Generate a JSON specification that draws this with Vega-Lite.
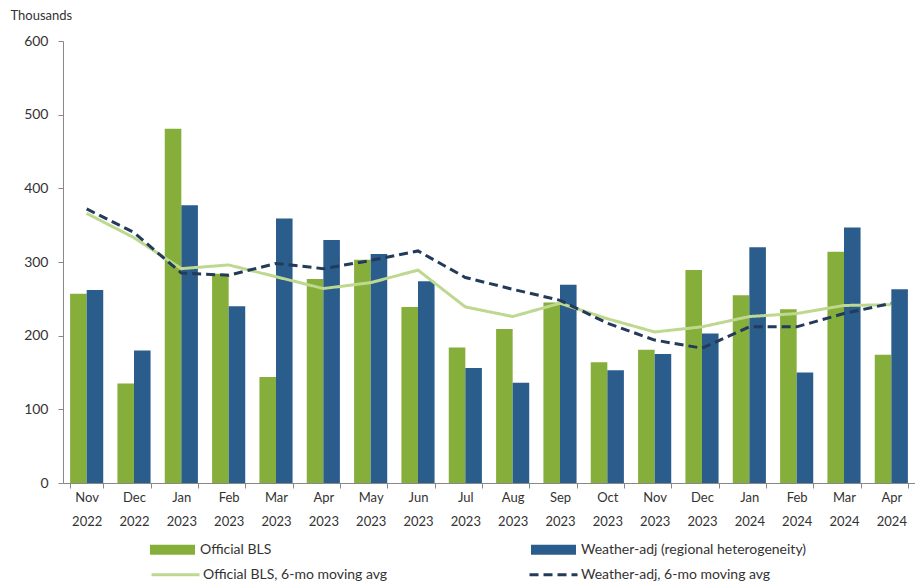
{
  "$schema": "https://vega.github.io/schema/vega-lite/v6.json",
  "autosize": "none",
  "padding": {"left": 63, "top": 41, "right": 0, "bottom": 101},
  "width": 852,
  "height": 442,
  "background": "white",
  "config": {
    "font": "Lato",
    "view": {"stroke": null},
    "axis": {"labelFont": "Lato", "titleFont": "Lato", "labelColor": "#333333", "titleColor": "#333333"}
  },
  "datasets": {
    "bars": [
      {"month": "Nov 2022", "series": "Official BLS", "value": 257},
      {"month": "Nov 2022", "series": "Weather-adj (regional heterogeneity)", "value": 262},
      {"month": "Dec 2022", "series": "Official BLS", "value": 135},
      {"month": "Dec 2022", "series": "Weather-adj (regional heterogeneity)", "value": 180},
      {"month": "Jan 2023", "series": "Official BLS", "value": 481},
      {"month": "Jan 2023", "series": "Weather-adj (regional heterogeneity)", "value": 377},
      {"month": "Feb 2023", "series": "Official BLS", "value": 284},
      {"month": "Feb 2023", "series": "Weather-adj (regional heterogeneity)", "value": 240},
      {"month": "Mar 2023", "series": "Official BLS", "value": 144},
      {"month": "Mar 2023", "series": "Weather-adj (regional heterogeneity)", "value": 359},
      {"month": "Apr 2023", "series": "Official BLS", "value": 277},
      {"month": "Apr 2023", "series": "Weather-adj (regional heterogeneity)", "value": 330},
      {"month": "May 2023", "series": "Official BLS", "value": 303},
      {"month": "May 2023", "series": "Weather-adj (regional heterogeneity)", "value": 311},
      {"month": "Jun 2023", "series": "Official BLS", "value": 239},
      {"month": "Jun 2023", "series": "Weather-adj (regional heterogeneity)", "value": 274},
      {"month": "Jul 2023", "series": "Official BLS", "value": 184},
      {"month": "Jul 2023", "series": "Weather-adj (regional heterogeneity)", "value": 156},
      {"month": "Aug 2023", "series": "Official BLS", "value": 209},
      {"month": "Aug 2023", "series": "Weather-adj (regional heterogeneity)", "value": 136},
      {"month": "Sep 2023", "series": "Official BLS", "value": 245},
      {"month": "Sep 2023", "series": "Weather-adj (regional heterogeneity)", "value": 269},
      {"month": "Oct 2023", "series": "Official BLS", "value": 164},
      {"month": "Oct 2023", "series": "Weather-adj (regional heterogeneity)", "value": 153},
      {"month": "Nov 2023", "series": "Official BLS", "value": 181},
      {"month": "Nov 2023", "series": "Weather-adj (regional heterogeneity)", "value": 175},
      {"month": "Dec 2023", "series": "Official BLS", "value": 289},
      {"month": "Dec 2023", "series": "Weather-adj (regional heterogeneity)", "value": 203},
      {"month": "Jan 2024", "series": "Official BLS", "value": 255},
      {"month": "Jan 2024", "series": "Weather-adj (regional heterogeneity)", "value": 320},
      {"month": "Feb 2024", "series": "Official BLS", "value": 236},
      {"month": "Feb 2024", "series": "Weather-adj (regional heterogeneity)", "value": 150},
      {"month": "Mar 2024", "series": "Official BLS", "value": 314},
      {"month": "Mar 2024", "series": "Weather-adj (regional heterogeneity)", "value": 347},
      {"month": "Apr 2024", "series": "Official BLS", "value": 174},
      {"month": "Apr 2024", "series": "Weather-adj (regional heterogeneity)", "value": 263}
    ],
    "lines": [
      {"month": "Nov 2022", "series": "Official BLS, 6-mo moving avg", "value": 366},
      {"month": "Dec 2022", "series": "Official BLS, 6-mo moving avg", "value": 333},
      {"month": "Jan 2023", "series": "Official BLS, 6-mo moving avg", "value": 291},
      {"month": "Feb 2023", "series": "Official BLS, 6-mo moving avg", "value": 296},
      {"month": "Mar 2023", "series": "Official BLS, 6-mo moving avg", "value": 280},
      {"month": "Apr 2023", "series": "Official BLS, 6-mo moving avg", "value": 264},
      {"month": "May 2023", "series": "Official BLS, 6-mo moving avg", "value": 272},
      {"month": "Jun 2023", "series": "Official BLS, 6-mo moving avg", "value": 289},
      {"month": "Jul 2023", "series": "Official BLS, 6-mo moving avg", "value": 239},
      {"month": "Aug 2023", "series": "Official BLS, 6-mo moving avg", "value": 226},
      {"month": "Sep 2023", "series": "Official BLS, 6-mo moving avg", "value": 244},
      {"month": "Oct 2023", "series": "Official BLS, 6-mo moving avg", "value": 223},
      {"month": "Nov 2023", "series": "Official BLS, 6-mo moving avg", "value": 205},
      {"month": "Dec 2023", "series": "Official BLS, 6-mo moving avg", "value": 212},
      {"month": "Jan 2024", "series": "Official BLS, 6-mo moving avg", "value": 226},
      {"month": "Feb 2024", "series": "Official BLS, 6-mo moving avg", "value": 230},
      {"month": "Mar 2024", "series": "Official BLS, 6-mo moving avg", "value": 241},
      {"month": "Apr 2024", "series": "Official BLS, 6-mo moving avg", "value": 242},
      {"month": "Nov 2022", "series": "Weather-adj, 6-mo moving avg", "value": 372},
      {"month": "Dec 2022", "series": "Weather-adj, 6-mo moving avg", "value": 340},
      {"month": "Jan 2023", "series": "Weather-adj, 6-mo moving avg", "value": 285},
      {"month": "Feb 2023", "series": "Weather-adj, 6-mo moving avg", "value": 282},
      {"month": "Mar 2023", "series": "Weather-adj, 6-mo moving avg", "value": 298},
      {"month": "Apr 2023", "series": "Weather-adj, 6-mo moving avg", "value": 291},
      {"month": "May 2023", "series": "Weather-adj, 6-mo moving avg", "value": 302},
      {"month": "Jun 2023", "series": "Weather-adj, 6-mo moving avg", "value": 315},
      {"month": "Jul 2023", "series": "Weather-adj, 6-mo moving avg", "value": 279},
      {"month": "Aug 2023", "series": "Weather-adj, 6-mo moving avg", "value": 263},
      {"month": "Sep 2023", "series": "Weather-adj, 6-mo moving avg", "value": 248},
      {"month": "Oct 2023", "series": "Weather-adj, 6-mo moving avg", "value": 217},
      {"month": "Nov 2023", "series": "Weather-adj, 6-mo moving avg", "value": 194},
      {"month": "Dec 2023", "series": "Weather-adj, 6-mo moving avg", "value": 183},
      {"month": "Jan 2024", "series": "Weather-adj, 6-mo moving avg", "value": 212},
      {"month": "Feb 2024", "series": "Weather-adj, 6-mo moving avg", "value": 212},
      {"month": "Mar 2024", "series": "Weather-adj, 6-mo moving avg", "value": 230},
      {"month": "Apr 2024", "series": "Weather-adj, 6-mo moving avg", "value": 244}
    ]
  },
  "encoding": {
    "x": {
      "field": "month",
      "type": "nominal",
      "sort": null,
      "scale": {"paddingInner": 0.3, "paddingOuter": 0.15},
      "axis": {
        "title": null,
        "labelAngle": 0,
        "labelExpr": "split(datum.label, ' ')",
        "labelLineHeight": 24,
        "labelFontSize": 13,
        "labelPadding": 3,
        "tickBand": "extent",
        "tickSize": 5,
        "tickColor": "#888888",
        "domainColor": "#888888",
        "labelBaseline": "top"
      }
    },
    "y": {
      "field": "value",
      "type": "quantitative",
      "scale": {"domain": [0, 600], "nice": false},
      "axis": {
        "title": "Thousands",
        "titleAngle": 0,
        "titleAlign": "left",
        "titleBaseline": "middle",
        "titleX": -53,
        "titleY": -26,
        "titleFontSize": 13,
        "titleFontWeight": "normal",
        "values": [0, 100, 200, 300, 400, 500, 600],
        "grid": false,
        "tickSize": 5,
        "tickColor": "#888888",
        "domainColor": "#888888",
        "labelFontSize": 14,
        "labelPadding": 10
      }
    }
  },
  "layer": [
    {
      "data": {"name": "bars"},
      "mark": {"type": "bar"},
      "encoding": {
        "xOffset": {"field": "series", "type": "nominal", "sort": null},
        "fill": {
          "field": "series",
          "type": "nominal",
          "scale": {
            "domain": ["Official BLS", "Weather-adj (regional heterogeneity)"],
            "range": ["#86AE3B", "#2B5D8C"]
          },
          "legend": {
            "title": null,
            "orient": "none",
            "legendX": 87,
            "legendY": 486,
            "direction": "horizontal",
            "columns": 2,
            "columnPadding": 259,
            "symbolType": "M-1,-0.22H1V0.22H-1Z",
            "symbolSize": 2025,
            "symbolStrokeWidth": 0,
            "labelFontSize": 14,
            "labelFont": "Lato",
            "labelColor": "#333333",
            "labelOffset": 5,
            "labelLimit": 400
          }
        }
      }
    },
    {
      "data": {"name": "lines"},
      "mark": {"type": "line", "strokeWidth": 3},
      "encoding": {
        "stroke": {
          "field": "series",
          "type": "nominal",
          "scale": {
            "domain": ["Official BLS, 6-mo moving avg", "Weather-adj, 6-mo moving avg"],
            "range": ["#BED88F", "#233A5A"]
          },
          "legend": {
            "title": null,
            "orient": "none",
            "legendX": 87,
            "legendY": 508,
            "direction": "horizontal",
            "columns": 2,
            "columnPadding": 135,
            "symbolType": "stroke",
            "symbolSize": 2300,
            "symbolStrokeWidth": 3,
            "labelFontSize": 14,
            "labelFont": "Lato",
            "labelColor": "#333333",
            "labelOffset": 2,
            "labelLimit": 400
          }
        },
        "strokeDash": {
          "field": "series",
          "type": "nominal",
          "scale": {
            "domain": ["Official BLS, 6-mo moving avg", "Weather-adj, 6-mo moving avg"],
            "range": [[1, 0], [9, 5]]
          },
          "legend": {
            "title": null,
            "orient": "none",
            "legendX": 87,
            "legendY": 508,
            "direction": "horizontal",
            "columns": 2,
            "columnPadding": 135,
            "symbolType": "stroke",
            "symbolSize": 2300,
            "symbolStrokeWidth": 3,
            "labelFontSize": 14,
            "labelFont": "Lato",
            "labelColor": "#333333",
            "labelOffset": 2,
            "labelLimit": 400
          }
        }
      }
    }
  ]
}
